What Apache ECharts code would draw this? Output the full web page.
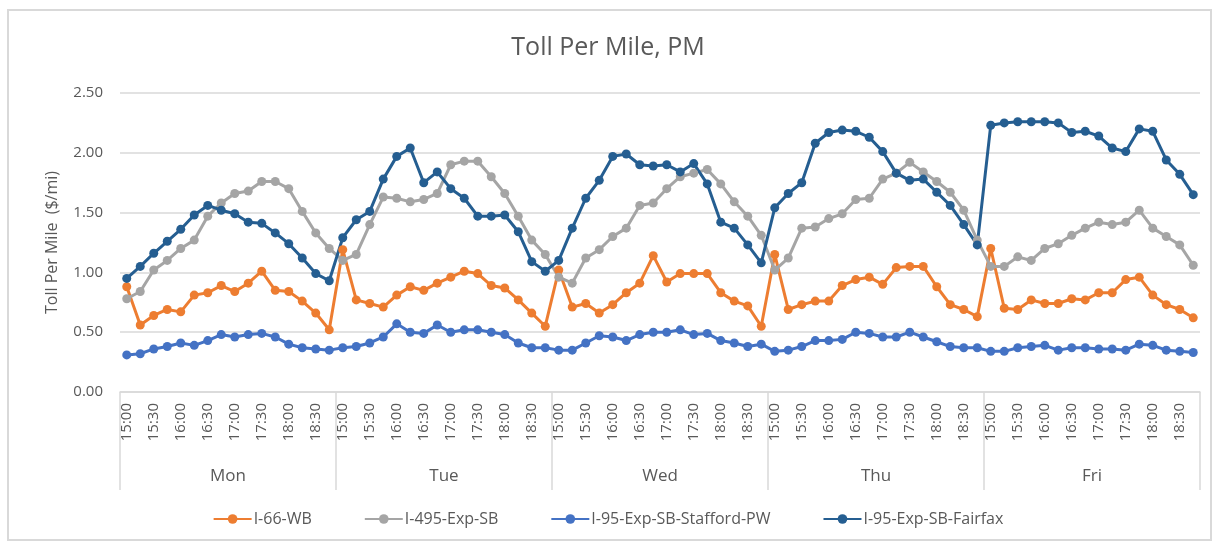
<!DOCTYPE html>
<html>
<head>
<meta charset="utf-8">
<script src="https://cdn.jsdelivr.net/npm/echarts@6/dist/echarts.min.js"></script>
<style>
html,body{margin:0;padding:0;background:#fff;}
#chart{width:1216px;height:546px;}
</style>
</head>
<body>
<div id="chart"></div>
<script>
const days = ['Mon','Tue','Wed','Thu','Fri'];
const times = ['15:00','15:15','15:30','15:45','16:00','16:15','16:30','16:45','17:00','17:15','17:30','17:45','18:00','18:15','18:30','18:45'];
const yTicks = [0, 0.5, 1.0, 1.5, 2.0, 2.5];

const i66WB = [
  0.88,0.56,0.64,0.69,0.67,0.81,0.83,0.89,0.84,0.91,1.01,0.85,0.84,0.76,0.66,0.52,
  1.19,0.77,0.74,0.71,0.81,0.88,0.85,0.91,0.96,1.01,0.99,0.89,0.87,0.77,0.66,0.55,
  1.02,0.71,0.74,0.66,0.73,0.83,0.91,1.14,0.92,0.99,0.99,0.99,0.83,0.76,0.72,0.55,
  1.15,0.69,0.73,0.76,0.76,0.89,0.94,0.96,0.90,1.04,1.05,1.05,0.88,0.73,0.69,0.63,
  1.20,0.70,0.69,0.77,0.74,0.74,0.78,0.77,0.83,0.83,0.94,0.96,0.81,0.73,0.69,0.62
];
const i495ExpSB = [
  0.78,0.84,1.02,1.10,1.20,1.27,1.47,1.58,1.66,1.68,1.76,1.76,1.70,1.51,1.33,1.20,
  1.10,1.15,1.40,1.63,1.62,1.59,1.61,1.66,1.90,1.93,1.93,1.80,1.66,1.47,1.27,1.15,
  0.96,0.91,1.12,1.19,1.30,1.37,1.56,1.58,1.70,1.80,1.83,1.86,1.74,1.59,1.47,1.31,
  1.02,1.12,1.37,1.38,1.45,1.49,1.61,1.62,1.78,1.83,1.92,1.84,1.76,1.67,1.52,1.27,
  1.05,1.05,1.13,1.10,1.20,1.24,1.31,1.37,1.42,1.40,1.42,1.52,1.37,1.30,1.23,1.06
];
const i95Stafford = [
  0.31,0.32,0.36,0.38,0.41,0.39,0.43,0.48,0.46,0.48,0.49,0.46,0.40,0.37,0.36,0.35,
  0.37,0.38,0.41,0.46,0.57,0.50,0.49,0.56,0.50,0.52,0.52,0.50,0.48,0.41,0.37,0.37,
  0.35,0.35,0.41,0.47,0.46,0.43,0.48,0.50,0.50,0.52,0.48,0.49,0.43,0.41,0.38,0.40,
  0.34,0.35,0.38,0.43,0.43,0.44,0.50,0.49,0.46,0.46,0.50,0.46,0.42,0.38,0.37,0.37,
  0.34,0.34,0.37,0.38,0.39,0.35,0.37,0.37,0.36,0.36,0.35,0.40,0.39,0.35,0.34,0.33
];
const i95Fairfax = [
  0.95,1.05,1.16,1.26,1.36,1.48,1.56,1.52,1.49,1.42,1.41,1.33,1.24,1.12,0.99,0.93,
  1.29,1.44,1.51,1.78,1.97,2.04,1.75,1.84,1.70,1.62,1.47,1.47,1.48,1.34,1.09,1.01,
  1.10,1.37,1.62,1.77,1.97,1.99,1.90,1.89,1.90,1.84,1.91,1.74,1.42,1.37,1.23,1.08,
  1.54,1.66,1.75,2.08,2.17,2.19,2.18,2.13,2.01,1.83,1.77,1.78,1.67,1.56,1.40,1.23,
  2.23,2.25,2.26,2.26,2.26,2.25,2.17,2.18,2.14,2.04,2.01,2.20,2.18,1.94,1.82,1.65
];

const seriesNames = ['I-66-WB','I-495-Exp-SB','I-95-Exp-SB-Stafford-PW','I-95-Exp-SB-Fairfax'];
const seriesData = [i66WB, i495ExpSB, i95Stafford, i95Fairfax];
const colors = ['#ED7D31','#A5A5A5','#4472C4','#255E91'];

const categories = [];
days.forEach(d => times.forEach(t => categories.push(d + ' ' + t)));

const FONT = '"Open Sans", "Noto Sans", sans-serif';
const TXT = '#595959';
const GRID = '#d9d9d9';

const chart = echarts.init(document.getElementById('chart'), null, {renderer:'canvas'});
chart.setOption({
  animation: false,
  backgroundColor: '#fff',
  color: colors,
  textStyle: {fontFamily: FONT},
  title: {
    text: 'Toll Per Mile, PM',
    left: 'center',
    top: 30,
    textStyle: {fontSize: 25, fontWeight: 'normal', color: TXT, fontFamily: FONT}
  },
  graphic: [{
    type: 'rect', silent: true, z: -1,
    shape: {x: 8, y: 10, width: 1203, height: 530},
    style: {fill: 'none', stroke: '#d9d9d9', lineWidth: 2}
  }],
  legend: {
    bottom: 14,
    left: 'center',
    itemWidth: 38,
    itemHeight: 12,
    itemGap: 52,
    textStyle: {fontSize: 16, color: TXT, fontFamily: FONT, padding: [0,0,0,-3]},
    data: seriesNames
  },
  grid: {left: 120, right: 16, top: 93, bottom: 154, containLabel: false},
  xAxis: [{
    type: 'category',
    data: categories,
    boundaryGap: true,
    axisLine: {show: true, lineStyle: {color: GRID, width: 1.5}},
    axisTick: {show: false},
    axisLabel: {
      interval: 1,
      rotate: 90,
      margin: 11,
      fontSize: 15,
      color: TXT,
      fontFamily: FONT,
      formatter: v => v.split(' ')[1]
    }
  }, {
    type: 'category',
    data: days,
    position: 'bottom',
    boundaryGap: true,
    axisLine: {show: false},
    axisTick: {show: true, length: 98, lineStyle: {color: GRID, width: 1.5}},
    axisLabel: {margin: 76, fontSize: 17, color: TXT, fontFamily: FONT},
    splitLine: {show: false}
  }],
  yAxis: {
    type: 'value',
    min: yTicks[0],
    max: yTicks[yTicks.length - 1],
    interval: yTicks[1] - yTicks[0],
    name: 'Toll Per Mile  ($/mi)',
    nameLocation: 'middle',
    nameGap: 60,
    nameTextStyle: {fontSize: 16, color: TXT, fontFamily: FONT},
    axisLine: {show: false},
    axisTick: {show: false},
    axisLabel: {margin: 17, fontSize: 15, color: TXT, fontFamily: FONT, formatter: v => v.toFixed(2)},
    splitLine: {lineStyle: {color: GRID, width: 1.5}}
  },
  series: seriesNames.map((n, k) => ({
    name: n,
    type: 'line',
    xAxisIndex: 0,
    data: seriesData[k],
    symbol: 'circle',
    symbolSize: 9,
    showSymbol: true,
    lineStyle: {width: 3, color: colors[k]},
    itemStyle: {color: colors[k]}
  }))
});
</script>
</body>
</html>
